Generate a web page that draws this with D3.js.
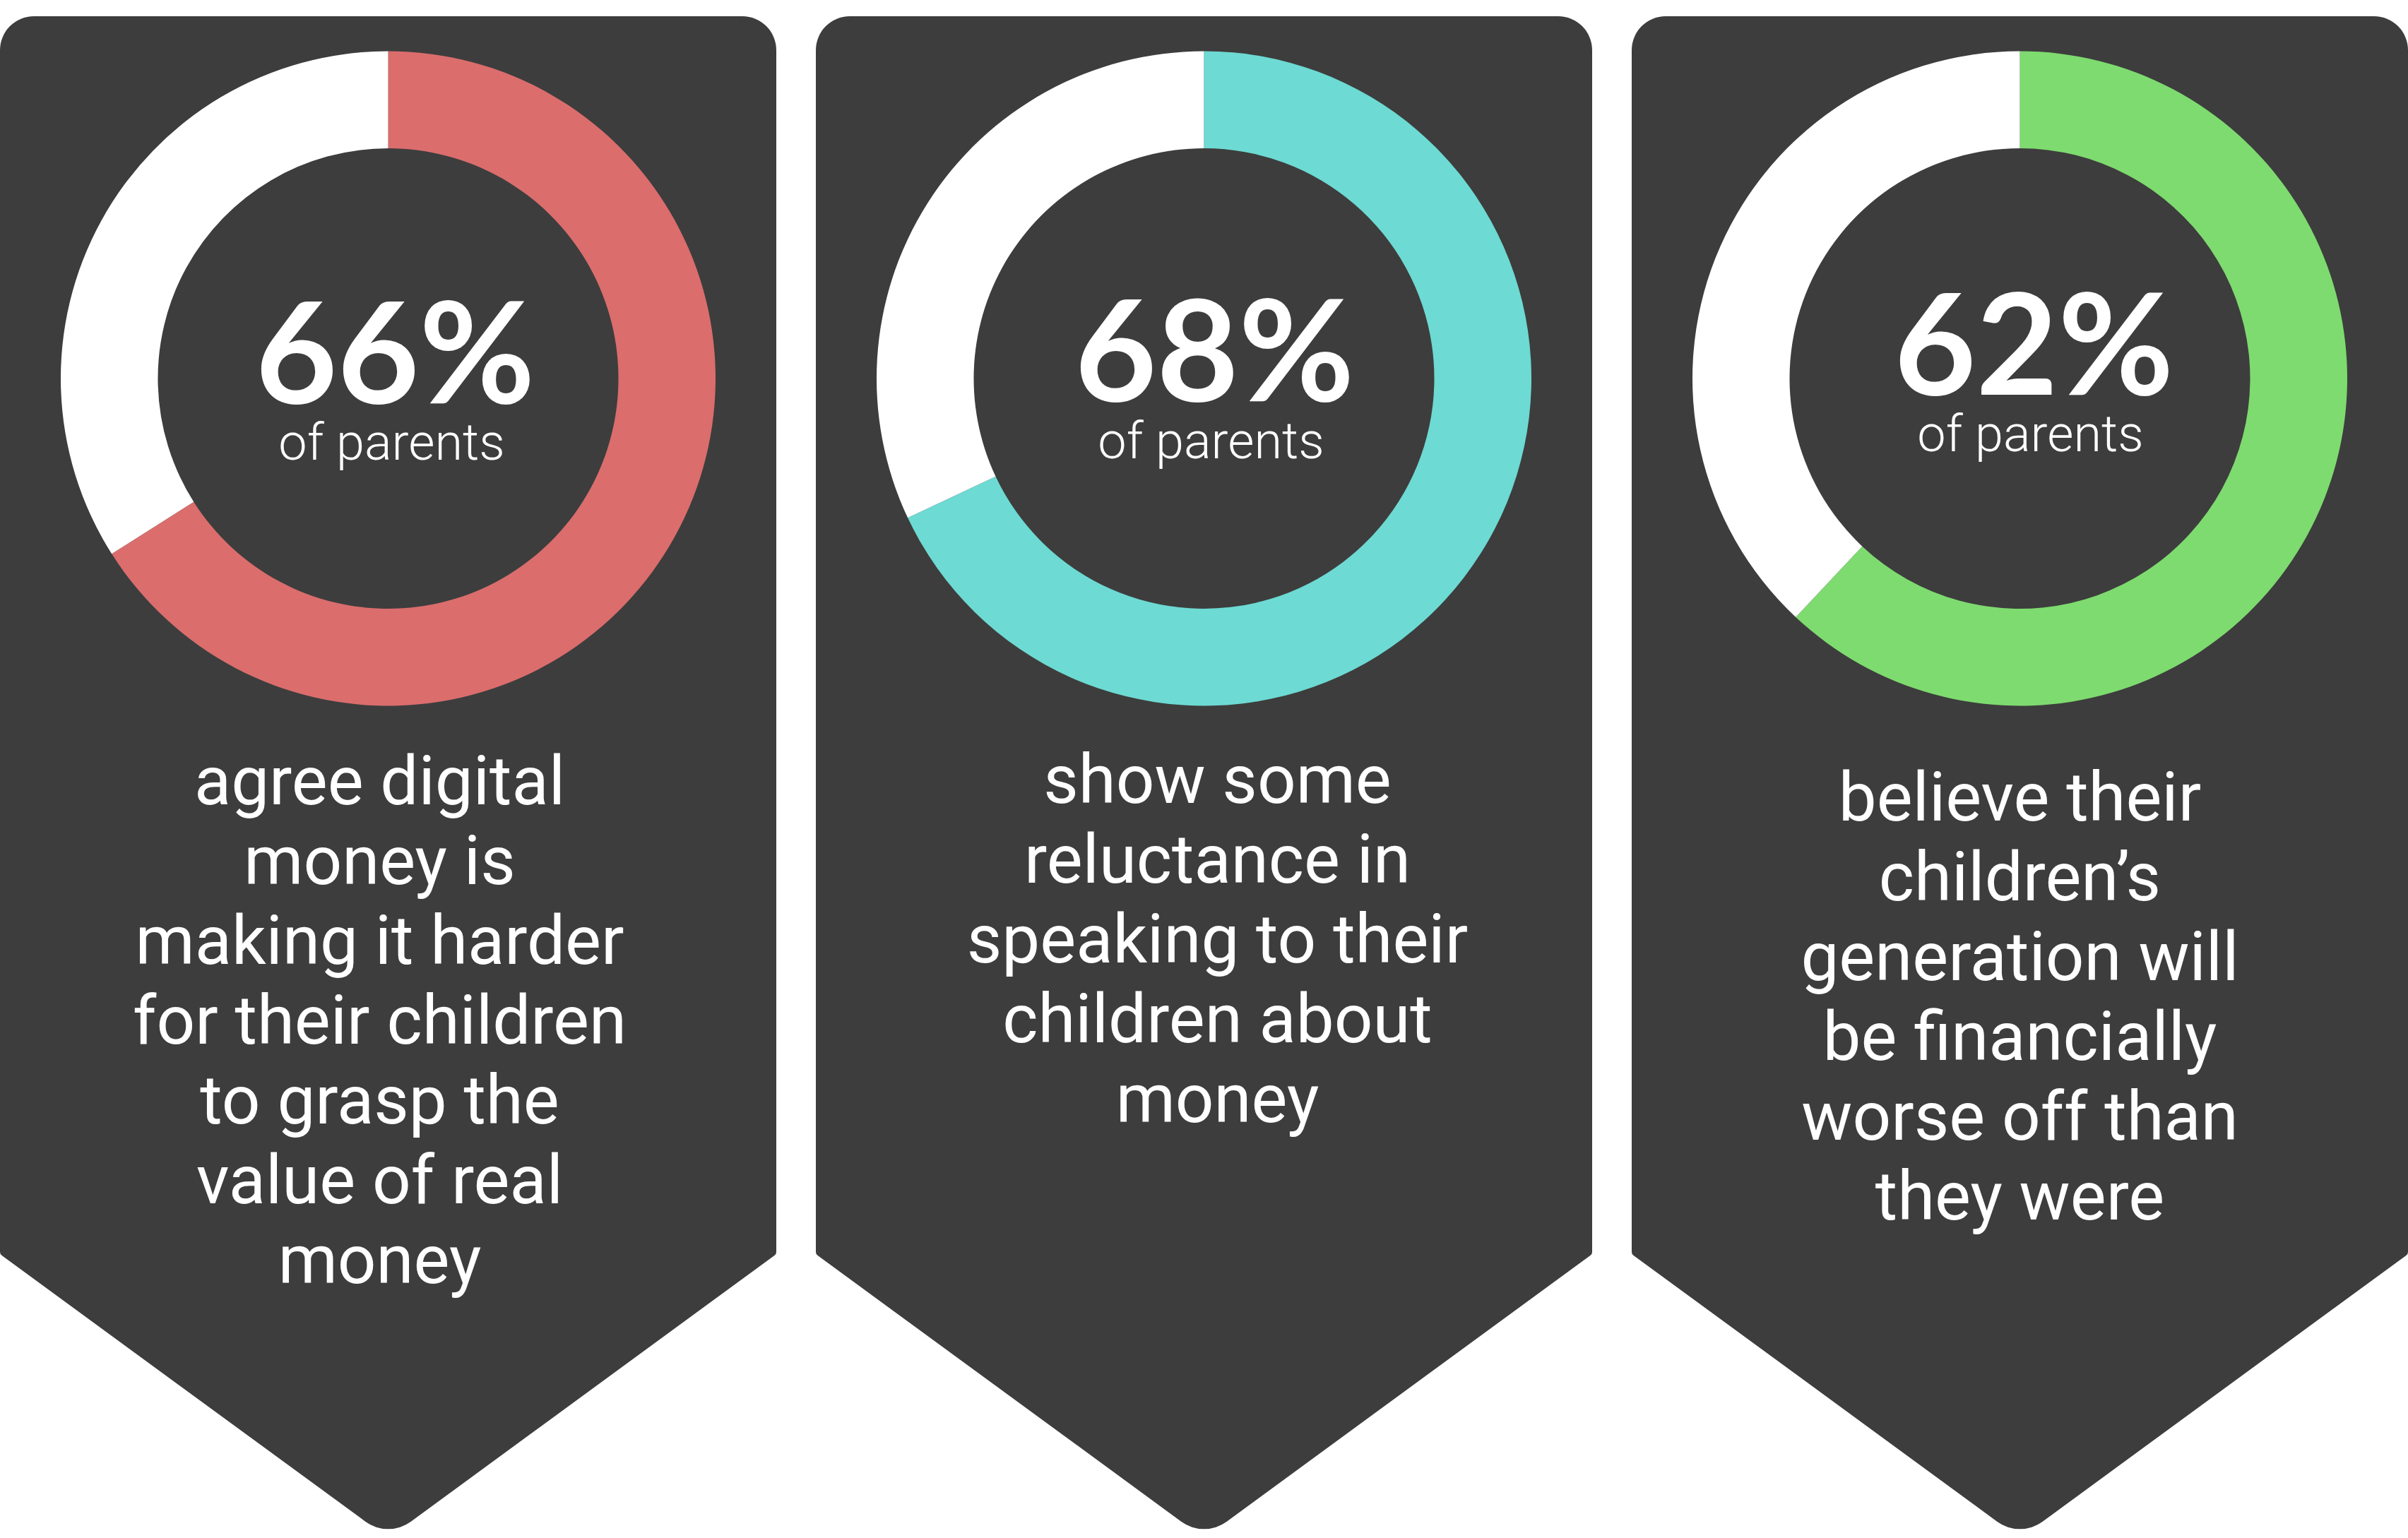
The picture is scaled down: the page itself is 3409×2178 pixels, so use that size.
<!DOCTYPE html>
<html>
<head>
<meta charset="utf-8">
<script src="https://cdn.jsdelivr.net/npm/d3@7"></script>
<style>
  html, body { margin: 0; padding: 0; background: #ffffff; }
  svg { display: block; }
</style>
</head>
<body>
<div id="chart"></div>
<script>
// ---------- data ----------
const categories = ["digital money", "reluctance", "worse off"];
const percentValues = [66, 68, 62];
const subLabel = "of parents";
const descriptions = [
  ["agree digital", "money is", "making it harder", "for their children", "to grasp the", "value of real", "money"],
  ["show some", "reluctance in", "speaking to their", "children about", "money"],
  ["believe their", "children\u2019s", "generation will", "be financially", "worse off than", "they were"]
];
const seriesColors = ["#db6d6d", "#6ddad3", "#7edb6f"];

// ---------- layout ----------
const W = 3409, H = 2178;
const panelW = 1099, panelStep = 1155;
const panelTop = 23, cornerR = 48, sideBottom = 1776, tipR = 54;
const tipSlope = 0.732;
const donutCy = 536, outerR = 463.5, innerR = 326;
const numberShift = [[10, 35], [15, 32], [20, 23]];
const subShift = [[5, 115], [10, 113], [15, 103]];
const descFirstBaseline = [1139, 1137, 1162];
const descCenterShift = [-12, 19, 0];
const lineGap = 113;
const panelFill = "#3d3d3d";

const svg = d3.select("#chart").append("svg")
  .attr("width", W).attr("height", H)
  .attr("viewBox", `0 0 ${W} ${H}`);

const x = d3.scaleBand().domain(categories).range([0, panelStep * 3]).paddingInner(0).paddingOuter(0);

const pie = d3.pie().sort(null).value(d => d).startAngle(0).endAngle(2 * Math.PI);
const arc = d3.arc().innerRadius(innerR).outerRadius(outerR);

categories.forEach((cat, i) => {
  const x0 = x(cat);
  const x1 = x0 + panelW;
  const cx = x0 + panelW / 2;
  const apexY = sideBottom + (panelW / 2) * tipSlope;

  // panel shape
  const p = d3.path();
  p.moveTo(x0, panelTop + cornerR);
  p.arcTo(x0, panelTop, x0 + cornerR, panelTop, cornerR);
  p.lineTo(x1 - cornerR, panelTop);
  p.arcTo(x1, panelTop, x1, panelTop + cornerR, cornerR);
  p.lineTo(x1, sideBottom - 6);
  p.arcTo(x1, sideBottom, cx, apexY, 6);
  p.arcTo(cx, apexY, x0, sideBottom, tipR);
  p.arcTo(x0, sideBottom, x0, sideBottom - 6, 6);
  p.closePath();

  const g = svg.append("g");
  g.append("path").attr("d", p.toString()).attr("fill", panelFill);

  // donut
  const v = percentValues[i];
  const arcs = pie([v, 100 - v]);
  const dg = g.append("g").attr("transform", `translate(${cx},${donutCy})`);
  dg.selectAll("path").data(arcs).join("path")
    .attr("d", arc)
    .attr("fill", (d, j) => j === 0 ? seriesColors[i] : "#ffffff");

  // big number
  g.append("text")
    .attr("x", cx + numberShift[i][0])
    .attr("y", donutCy + numberShift[i][1])
    .attr("text-anchor", "middle")
    .attr("font-family", "Lato, sans-serif")
    .attr("font-weight", 700)
    .attr("font-size", 200)
    .attr("fill", "#ffffff")
    .text(v + "%");

  g.append("text")
    .attr("x", cx + subShift[i][0])
    .attr("y", donutCy + subShift[i][1])
    .attr("text-anchor", "middle")
    .attr("font-family", "Roboto, sans-serif")
    .attr("font-weight", 300)
    .attr("font-size", 72)
    .attr("fill", "#ffffff")
    .text(subLabel);

  // description
  const t = g.append("text")
    .attr("text-anchor", "middle")
    .attr("font-family", "Roboto, sans-serif")
    .attr("font-weight", 400)
    .attr("font-size", 96)
    .attr("fill", "#ffffff");
  t.selectAll("tspan").data(descriptions[i]).join("tspan")
    .attr("x", cx + descCenterShift[i])
    .attr("y", (d, k) => descFirstBaseline[i] + k * lineGap)
    .text(d => d);
});
</script>
</body>
</html>
